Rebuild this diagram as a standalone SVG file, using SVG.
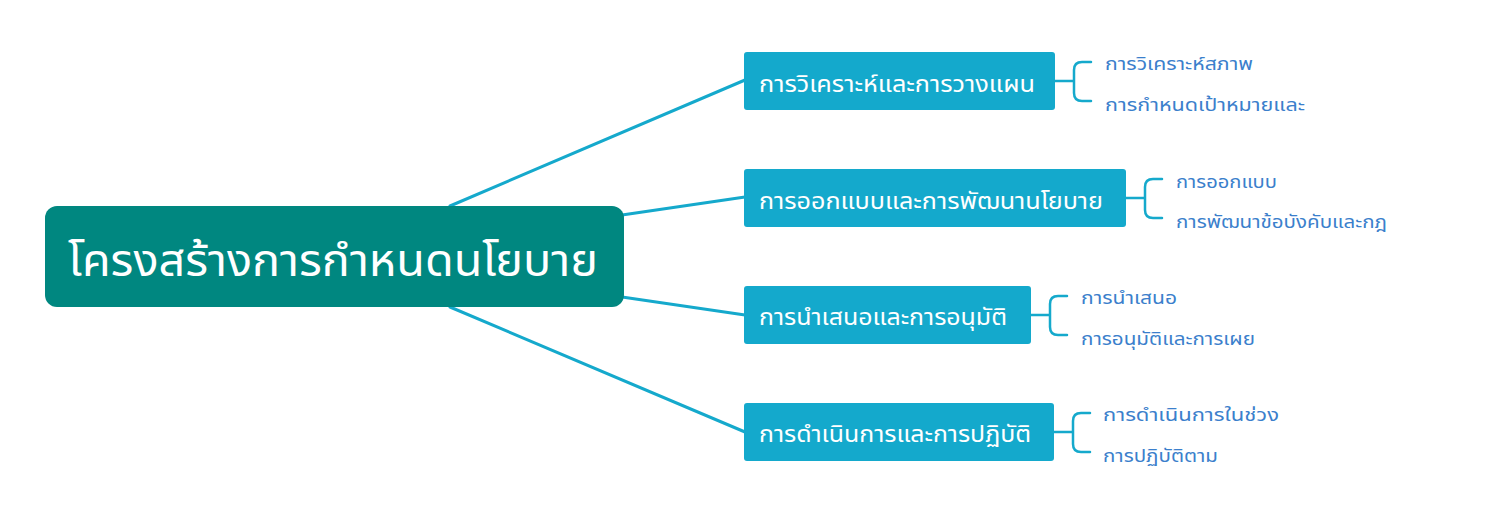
<svg xmlns="http://www.w3.org/2000/svg" width="1505" height="528" viewBox="0 0 1505 528">
<style>
.conn{fill:none;stroke:#15a9cc;stroke-width:3;stroke-linecap:round}
.br{fill:none;stroke:#15a9cc;stroke-width:2.5;stroke-linecap:round}
.root{fill:#008780}
.sub{fill:#14a9cc}
text{font-family:"Noto Sans","Noto Sans Thai","Tahoma","DejaVu Sans",sans-serif}
.rt{fill:#ffffff;font-size:45px}
.st{fill:#ffffff;font-size:23px}
.lt{fill:#3b7fcc;font-size:18.5px}
</style>
<rect width="1505" height="528" fill="#ffffff"/>
<g id="connectors">
<line class="conn" x1="450" y1="206" x2="745" y2="80"/>
<line class="conn" x1="622" y1="215" x2="745" y2="197"/>
<line class="conn" x1="622" y1="297" x2="745" y2="315"/>
<line class="conn" x1="450" y1="307" x2="745" y2="432"/>
<path class="br" d="M1055 81 H1074 M1091 62 H1082 Q1074 62 1074 70 V93 Q1074 101 1082 101 H1091"/>
<path class="br" d="M1126 198 H1145 M1162 179 H1153 Q1145 179 1145 187 V210 Q1145 218 1153 218 H1162"/>
<path class="br" d="M1031 315 H1050 M1067 296 H1058 Q1050 296 1050 304 V327 Q1050 335 1058 335 H1067"/>
<path class="br" d="M1054 432 H1073 M1090 413 H1081 Q1073 413 1073 421 V444 Q1073 452 1081 452 H1090"/>
</g>
<g id="root">
<rect class="root" x="45" y="206" width="579" height="101" rx="12"/>
<text class="rt" x="68" y="276" textLength="530" lengthAdjust="spacingAndGlyphs">โครงสร้างการกำหนดนโยบาย</text>
</g>
<g id="n1">
<rect class="sub" x="744" y="52" width="311" height="58" rx="3"/>
<text class="st" x="759" y="92" textLength="276" lengthAdjust="spacingAndGlyphs">การวิเคราะห์และการวางแผน</text>
</g>
<g id="n2">
<rect class="sub" x="744" y="169" width="382" height="58" rx="3"/>
<text class="st" x="759" y="209" textLength="344" lengthAdjust="spacingAndGlyphs">การออกแบบและการพัฒนานโยบาย</text>
</g>
<g id="n3">
<rect class="sub" x="744" y="286" width="287" height="58" rx="3"/>
<text class="st" x="759" y="325" textLength="248" lengthAdjust="spacingAndGlyphs">การนำเสนอและการอนุมัติ</text>
</g>
<g id="n4">
<rect class="sub" x="744" y="403" width="310" height="58" rx="3"/>
<text class="st" x="759" y="442" textLength="272" lengthAdjust="spacingAndGlyphs">การดำเนินการและการปฏิบัติ</text>
</g>
<g id="leaf1a"><text class="lt" x="1105" y="70" textLength="148" lengthAdjust="spacingAndGlyphs">การวิเคราะห์สภาพ</text></g>
<g id="leaf1b"><text class="lt" x="1105" y="111" textLength="200" lengthAdjust="spacingAndGlyphs">การกำหนดเป้าหมายและ</text></g>
<g id="leaf2a"><text class="lt" x="1176" y="188" textLength="101" lengthAdjust="spacingAndGlyphs">การออกแบบ</text></g>
<g id="leaf2b"><text class="lt" x="1176" y="228" textLength="211" lengthAdjust="spacingAndGlyphs">การพัฒนาข้อบังคับและกฎ</text></g>
<g id="leaf3a"><text class="lt" x="1081" y="304" textLength="96" lengthAdjust="spacingAndGlyphs">การนำเสนอ</text></g>
<g id="leaf3b"><text class="lt" x="1081" y="345" textLength="174" lengthAdjust="spacingAndGlyphs">การอนุมัติและการเผย</text></g>
<g id="leaf4a"><text class="lt" x="1103" y="421" textLength="176" lengthAdjust="spacingAndGlyphs">การดำเนินการในช่วง</text></g>
<g id="leaf4b"><text class="lt" x="1103" y="462" textLength="115" lengthAdjust="spacingAndGlyphs">การปฏิบัติตาม</text></g>
</svg>
